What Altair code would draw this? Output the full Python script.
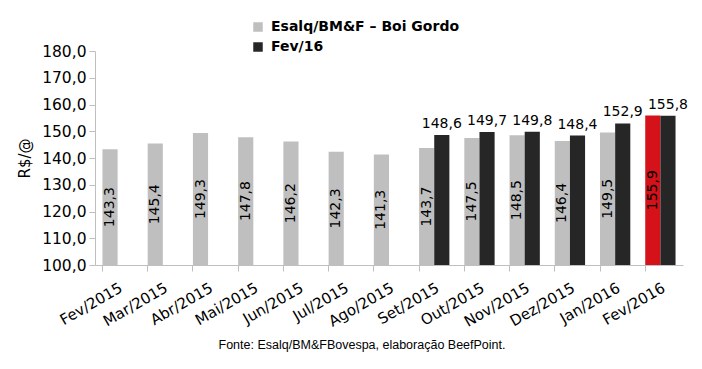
import altair as alt
import pandas as pd

meses = ["Fev/2015", "Mar/2015", "Abr/2015", "Mai/2015", "Jun/2015", "Jul/2015",
         "Ago/2015", "Set/2015", "Out/2015", "Nov/2015", "Dez/2015", "Jan/2016", "Fev/2016"]
esalq = [143.3, 145.4, 149.3, 147.8, 146.2, 142.3, 141.3, 143.7, 147.5, 148.5, 146.4, 149.5, 155.9]
fev16_meses = ["Set/2015", "Out/2015", "Nov/2015", "Dez/2015", "Jan/2016", "Fev/2016"]
fev16 = [148.6, 149.7, 149.8, 148.4, 152.9, 155.8]
s1 = "Esalq/BM&F – Boi Gordo"
s2 = "Fev/16"
destaque = "Fev/2016"
fonte = "Fonte: Esalq/BM&FBovespa, elaboração BeefPoint."
y_ticks = [100, 110, 120, 130, 140, 150, 160, 170, 180]

rows = []
for m, v in zip(meses, esalq):
    rows.append({"mes": m, "serie": s1, "valor": v, "cor": "Destaque" if m == destaque else s1})
for m, v in zip(fev16_meses, fev16):
    rows.append({"mes": m, "serie": s2, "valor": v, "cor": s2})
df = pd.DataFrame(rows)

FONT = "DejaVu Sans"

base = alt.Chart(df).transform_calculate(
    rotulo="replace(format(datum.valor, '.1f'), '.', ',')",
    meio="(100 + datum.valor) / 2",
)

x_axis = alt.Axis(title=None, labelAngle=-30, bandPosition=0,
                  labelFont=FONT, labelFontSize=15, labelColor="#000",
                  domainColor="#BFBFBF", tickColor="#BFBFBF", tickSize=6,
                  labelPadding=9)
x = alt.X("mes:N", sort=meses, scale=alt.Scale(paddingInner=0.33, paddingOuter=0.165), axis=x_axis)
xo = alt.XOffset("serie:N", scale=alt.Scale(domain=[s1, s2], paddingInner=0, paddingOuter=0))
yscale = alt.Scale(domain=[100, 180], nice=False, zero=False)
y_axis = alt.Axis(title="R$/@", values=y_ticks, labelOverlap=False,
                  labelExpr="replace(format(datum.value, '.1f'), '.', ',')",
                  labelFont=FONT, labelFontSize=15.5, labelColor="#000",
                  titleFont=FONT, titleFontSize=15, titleFontWeight="normal", titleColor="#000",
                  domainColor="#BFBFBF", tickColor="#BFBFBF", tickSize=6, grid=False,
                  labelPadding=3, titlePadding=9)

bars = base.mark_bar().encode(
    x=x, xOffset=xo, y=alt.Y("valor:Q", scale=yscale, axis=y_axis), y2=alt.datum(100),
    color=alt.Color(
        "cor:N",
        scale=alt.Scale(domain=[s1, s2, "Destaque"], range=["#BFBFBF", "#262626", "#D5121A"]),
        legend=alt.Legend(values=[s1, s2], title=None, orient="none", legendX=156, legendY=-31,
                          symbolType="square", symbolSize=90, symbolStrokeWidth=0,
                          labelFont=FONT, labelFontSize=14, labelFontWeight="bold",
                          labelColor="#000", rowPadding=6, labelLimit=400, labelOffset=6),
    ),
)

rot_cinza = base.transform_filter(alt.datum.serie == s1).mark_text(
    angle=270, align="center", baseline="middle", font=FONT, fontSize=14, color="#000"
).encode(x=x, xOffset=xo, y=alt.Y("meio:Q", scale=yscale, axis=y_axis), text="rotulo:N")

rot_preto = base.transform_filter(alt.datum.serie == s2).mark_text(
    align="center", baseline="bottom", dy=-4, font=FONT, fontSize=14, color="#000"
).encode(x=x, xOffset=xo, y=alt.Y("valor:Q", scale=yscale, axis=y_axis), text="rotulo:N")

chart = alt.layer(bars, rot_cinza, rot_preto).properties(
    width=588, height=214,
    padding={"left": 87, "top": 43, "right": 11, "bottom": 90},
    autosize=alt.AutoSizeParams(type="none"),
    title=alt.TitleParams(text=fonte, orient="bottom", anchor="middle", font="Liberation Sans",
                          fontSize=12.5, fontWeight="normal", color="#000", dx=-27, offset=10),
).configure_view(stroke=None)

chart.save("out.html", embed_options={"renderer": "svg", "actions": False})
